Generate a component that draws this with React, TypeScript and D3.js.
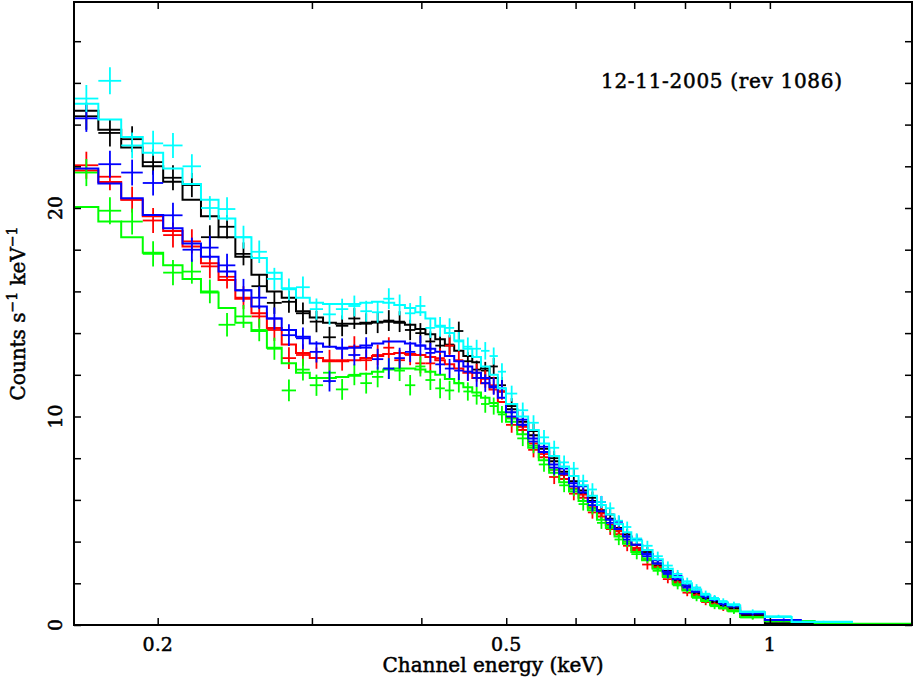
import React, { useRef, useEffect } from "react";
import { select, scaleLog, scaleLinear, line, curveStepAfter, axisBottom, axisTop, axisLeft, axisRight, range } from "d3";

// channel bin edges (keV), shared by all five spectra up to ~0.92 keV
const edges = [
    0.1605, 0.1711, 0.1817, 0.1923, 0.2029, 0.2135, 0.2241, 0.2347, 0.2453, 0.2559,
    0.2665, 0.2771, 0.2877, 0.2983, 0.3089, 0.3195, 0.3301, 0.3407, 0.3513, 0.3619,
    0.3725, 0.3831, 0.3937, 0.4043, 0.4149, 0.4255, 0.4361, 0.4467, 0.4573, 0.4679,
    0.4785, 0.4891, 0.4997, 0.5147, 0.5297, 0.5447, 0.5597, 0.5747, 0.5897, 0.6047,
    0.6197, 0.6347, 0.6497, 0.6647, 0.6797, 0.6947, 0.7147, 0.7347, 0.7547, 0.7747,
    0.7947, 0.8147, 0.8347, 0.8547, 0.8747, 0.8947, 0.9247
];

// 1-sigma errors per bin
const errs = [
    0.65, 0.65, 0.62, 0.6, 0.6, 0.58, 0.57, 0.56, 0.55, 0.54,
    0.53, 0.52, 0.52, 0.51, 0.5, 0.5, 0.5, 0.5, 0.5, 0.5,
    0.5, 0.49, 0.48, 0.48, 0.47, 0.46, 0.45, 0.44, 0.43, 0.42,
    0.41, 0.4, 0.38, 0.37, 0.36, 0.35, 0.34, 0.33, 0.32, 0.31,
    0.3, 0.29, 0.28, 0.27, 0.26, 0.25, 0.24, 0.22, 0.2, 0.19,
    0.17, 0.16, 0.15, 0.14, 0.13, 0.12
];
const tailErrs = [0.1, 0.07, 0.04];

const blackModel = [
    24.67, 23.75, 22.9, 22.0, 21.26, 20.4, 19.6, 18.6, 17.66, 16.8,
    16.0, 15.7, 15.05, 14.75, 14.5, 14.45, 14.45, 14.5, 14.55, 14.55,
    14.5, 14.4, 14.2, 13.95, 13.7, 13.4, 13.15, 12.9, 12.6, 12.3,
    11.85, 11.2, 10.35, 9.75, 9.1, 8.45, 7.85, 7.35, 6.9, 6.45,
    5.95, 5.5, 5.1, 4.65, 4.25, 3.85, 3.4, 2.95, 2.55, 2.15,
    1.85, 1.55, 1.3, 1.1, 0.95, 0.8
];
const blackData = [
    24.4, 23.6, 23.3, 22.2, 21.45, 21.1, 18.6, 19.1, 17.8, 16.25,
    15.45, 15.5, 14.95, 14.55, 13.8, 14.35, 14.7, 14.45, 14.5, 14.6,
    14.55, 14.15, 14.0, 13.6, 13.4, 13.45, 14.1, 12.65, 12.25, 12.2,
    12.4, 11.5, 10.5, 9.6, 9.3, 8.3, 8.0, 7.2, 7.15, 6.3,
    6.1, 5.4, 5.3, 4.5, 4.35, 3.7, 3.5, 2.85, 2.6, 2.05,
    1.9, 1.5, 1.35, 1.05, 0.95, 0.8
];
const blackTailEdges = [0.987, 1.125];
const blackTailModel = [0.5, 0.08];
const blackTailData = [0.45, 0.07];

const redModel = [
    21.8, 21.25, 20.4, 19.6, 18.9, 18.15, 17.35, 16.55, 15.65, 14.95,
    14.25, 13.45, 13.05, 12.8, 12.65, 12.65, 12.7, 12.8, 12.9, 13.0,
    13.05, 13.0, 12.95, 12.85, 12.7, 12.5, 12.3, 12.1, 11.85, 11.6,
    11.3, 10.7, 9.95, 9.35, 8.7, 8.05, 7.45, 7.0, 6.55, 6.1,
    5.65, 5.2, 4.8, 4.35, 4.0, 3.6, 3.15, 2.75, 2.35, 2.0,
    1.7, 1.4, 1.2, 1.0, 0.85, 0.7
];
const redData = [
    22.05, 21.5, 20.4, 19.4, 18.7, 18.4, 17.2, 16.7, 15.7, 14.8,
    14.15, 12.8, 12.95, 12.8, 12.7, 12.7, 13.35, 12.7, 12.95, 13.3,
    12.7, 12.95, 12.55, 12.55, 12.8, 13.4, 12.7, 12.15, 12.1, 11.8,
    11.5, 11.2, 9.6, 9.5, 8.4, 8.2, 7.1, 7.2, 6.3, 6.25,
    5.4, 5.35, 4.6, 4.5, 3.8, 3.7, 2.9, 2.8, 2.2, 2.05,
    1.55, 1.45, 1.1, 1.0, 0.8, 0.7
];
const redTailEdges = [0.987, 1.059];
const redTailModel = [0.4, 0.2];
const redTailData = [0.38, 0.2];

const greenModel = [
    20.05, 19.35, 18.6, 17.85, 17.25, 16.6, 15.95, 15.2, 14.5, 14.1,
    13.3, 12.55, 12.1, 11.85, 11.85, 11.9, 11.95, 12.05, 12.15, 12.25,
    12.3, 12.3, 12.25, 12.15, 12.0, 11.8, 11.6, 11.4, 11.15, 10.9,
    10.65, 10.2, 9.75, 9.15, 8.5, 7.9, 7.3, 6.85, 6.4, 5.95,
    5.5, 5.05, 4.65, 4.25, 3.9, 3.5, 3.1, 2.7, 2.3, 1.95,
    1.65, 1.35, 1.15, 0.95, 0.8, 0.7
];
const greenData = [
    21.7, 19.87, 19.35, 17.8, 16.9, 16.95, 16.0, 14.4, 14.8, 14.15,
    13.25, 11.25, 12.25, 11.5, 12.1, 11.3, 12.0, 11.6, 11.9, 12.3,
    12.2, 11.5, 12.4, 11.75, 11.35, 11.25, 11.6, 11.2, 11.0, 10.6,
    10.5, 10.1, 9.9, 8.95, 8.6, 7.7, 7.45, 6.7, 6.5, 5.8,
    5.6, 4.9, 4.75, 4.1, 4.0, 3.4, 3.2, 2.6, 2.4, 1.9,
    1.7, 1.3, 1.2, 0.9, 0.85, 0.65
];
const greenTailEdges = [0.987, 1.125, 1.453];
const greenTailModel = [0.38, 0.19, 0.06];
const greenTailData = [0.36, 0.18, 0.05];

const blueModel = [
    21.9, 21.18, 20.47, 19.66, 19.03, 18.3, 17.66, 16.95, 16.05, 15.27,
    14.7, 14.15, 13.83, 13.5, 13.35, 13.3, 13.3, 13.4, 13.5, 13.6,
    13.6, 13.5, 13.4, 13.25, 13.1, 12.9, 12.65, 12.4, 12.1, 11.85,
    11.4, 10.9, 10.2, 9.6, 8.95, 8.3, 7.7, 7.25, 6.8, 6.35,
    5.9, 5.45, 5.05, 4.6, 4.25, 3.85, 3.4, 2.95, 2.55, 2.2,
    1.9, 1.6, 1.4, 1.2, 1.05, 0.9
];
const blueData = [
    24.3, 22.1, 21.7, 21.2, 19.65, 18.0, 18.1, 17.25, 16.05, 15.7,
    14.7, 13.9, 13.75, 13.1, 11.7, 13.25, 12.95, 13.3, 12.75, 12.3,
    12.8, 13.1, 13.4, 13.05, 12.5, 12.3, 12.2, 12.15, 11.85, 11.6,
    11.45, 11.35, 10.0, 9.85, 8.8, 8.55, 7.55, 7.5, 6.65, 6.65,
    5.75, 5.9, 4.9, 4.95, 4.1, 4.1, 3.3, 3.1, 2.45, 2.35,
    1.8, 1.7, 1.35, 1.25, 1.0, 0.9
];
const blueTailEdges = [0.987, 1.087];
const blueTailModel = [0.57, 0.24];
const blueTailData = [0.55, 0.25];

const cyanModel = [
    25.0, 24.25, 23.4, 22.65, 21.9, 21.15, 20.4, 19.5, 18.6, 17.6,
    16.9, 16.15, 15.7, 15.45, 15.4, 15.4, 15.4, 15.45, 15.5, 15.45,
    15.35, 15.2, 15.0, 14.7, 14.35, 14.0, 13.65, 13.25, 12.85, 12.4,
    12.0, 11.35, 10.6, 10.0, 9.35, 8.7, 8.1, 7.6, 7.15, 6.7,
    6.2, 5.75, 5.3, 4.85, 4.45, 4.05, 3.6, 3.15, 2.7, 2.3,
    2.0, 1.7, 1.45, 1.25, 1.1, 0.95
];
const cyanData = [
    25.25, 26.1, 23.0, 23.1, 23.0, 22.0, 20.0, 19.95, 18.6, 17.9,
    16.6, 16.1, 16.2, 15.15, 14.9, 15.15, 15.3, 15.05, 15.0, 15.65,
    15.35, 14.95, 15.3, 14.25, 14.3, 14.25, 13.6, 13.35, 13.25, 13.15,
    12.9, 12.15, 11.1, 10.3, 9.7, 9.0, 8.5, 7.8, 7.5, 6.9,
    6.5, 5.9, 5.6, 5.0, 4.7, 4.15, 3.8, 3.3, 2.85, 2.45,
    2.1, 1.8, 1.5, 1.3, 1.15, 1.0
];
const cyanTailEdges = [0.987, 1.059, 1.244];
const cyanTailModel = [0.62, 0.38, 0.14];
const cyanTailData = [0.65, 0.42, 0.16];

// axis ticks and labels
const xTicks = [0.2, 0.3, 0.4, 0.5, 0.6, 0.7, 0.8, 0.9, 1];
const xLabels = [0.2, 0.5, 1];
const yLabels = [0, 10, 20];

const makeSeries = (color, model, data, tailEdges, tailModel, tailData) => ({
    color: color,
    edges: edges.concat(tailEdges),
    model: model.concat(tailModel),
    data: data.concat(tailData),
    errs: errs.concat(tailErrs.slice(0, tailEdges.length))
});

const series = [
    makeSeries("#000000", blackModel, blackData, blackTailEdges, blackTailModel, blackTailData),
    makeSeries("#ff0000", redModel, redData, redTailEdges, redTailModel, redTailData),
    makeSeries("#00ff00", greenModel, greenData, greenTailEdges, greenTailModel, greenTailData),
    makeSeries("#0000ff", blueModel, blueData, blueTailEdges, blueTailModel, blueTailData),
    makeSeries("#00ffff", cyanModel, cyanData, cyanTailEdges, cyanTailModel, cyanTailData)
];

const width = 917;
const height = 681;
const margin = { top: 2, right: 5, bottom: 56, left: 74 };
const font = "'DejaVu Serif', serif";

const App = () => {
    const svgRef = useRef(null);

    useEffect(() => {
        const svg = select(svgRef.current);
        svg.selectAll("*").remove();

        const x = scaleLog().domain([0.1605, 1.453]).range([margin.left, width - margin.right]);
        const y = scaleLinear().domain([0, 29.88]).range([height - margin.bottom, margin.top]);
        const x0 = margin.left, x1 = width - margin.right;
        const y0 = height - margin.bottom, y1 = margin.top;

        const stepLine = line()
            .x(function (d) { return x(d[0]); })
            .y(function (d) { return y(d[1]); })
            .curve(curveStepAfter);

        series.forEach(function (s) {
            const g = svg.append("g").attr("stroke", s.color).attr("fill", "none");
            // data crosses: bin width horizontally, error vertically
            s.data.forEach(function (v, i) {
                const lo = s.edges[i], hi = s.edges[i + 1];
                const c = (lo + hi) / 2;
                g.append("line").attr("x1", x(lo)).attr("x2", x(hi)).attr("y1", y(v)).attr("y2", y(v))
                    .attr("stroke-width", 1.8);
                g.append("line").attr("x1", x(c)).attr("x2", x(c)).attr("y1", y(v - s.errs[i])).attr("y2", y(v + s.errs[i]))
                    .attr("stroke-width", 1.8);
            });
            // folded model as a histogram
            const pts = s.model.map(function (m, i) { return [s.edges[i], m]; });
            pts.push([s.edges[s.edges.length - 1], s.model[s.model.length - 1]]);
            g.append("path").attr("d", stepLine(pts)).attr("stroke-width", 2);
        });

        // frame
        svg.append("rect").attr("x", x0).attr("y", y1).attr("width", x1 - x0).attr("height", y0 - y1)
            .attr("fill", "none").attr("stroke", "#000").attr("stroke-width", 2);

        // inward ticks on all four sides
        const yMinor = range(0, 30, 2);
        const tickAxes = [
            [axisBottom(x).tickValues(xTicks), "translate(0," + y0 + ")"],
            [axisTop(x).tickValues(xTicks), "translate(0," + y1 + ")"],
            [axisLeft(y).tickValues(yMinor), "translate(" + x0 + ",0)"],
            [axisRight(y).tickValues(yMinor), "translate(" + x1 + ",0)"]
        ];
        tickAxes.forEach(function (a) {
            const ax = svg.append("g").attr("transform", a[1])
                .call(a[0].tickSize(-7).tickFormat(function () { return ""; }));
            ax.select(".domain").remove();
            ax.selectAll("line").attr("stroke", "#000").attr("stroke-width", 1.5);
        });

        // text gets a thin outline so it looks as heavy as the plotter font
        const heavy = function (t) { return t.attr("stroke", "#000").attr("stroke-width", 0.5); };

        // tick labels
        svg.selectAll(".xlab").data(xLabels).enter().append("text")
            .attr("x", function (d) { return x(d); }).attr("y", 651)
            .attr("text-anchor", "middle").attr("font-family", font).attr("font-size", 19)
            .call(heavy)
            .text(function (d) { return String(d); });
        svg.selectAll(".ylab").data(yLabels).enter().append("text")
            .attr("transform", function (d) { return "translate(62," + y(d) + ") rotate(-90)"; })
            .attr("text-anchor", "middle").attr("font-family", font).attr("font-size", 19)
            .call(heavy)
            .text(function (d) { return String(d); });

        // axis titles
        svg.append("text").attr("x", (x0 + x1) / 2).attr("y", 672)
            .attr("text-anchor", "middle").attr("font-family", font).attr("font-size", 20)
            .call(heavy)
            .text("Channel energy (keV)");
        const yt = svg.append("text").attr("transform", "translate(25," + ((y0 + y1) / 2) + ") rotate(-90)")
            .attr("text-anchor", "middle").attr("font-family", font).attr("font-size", 20)
            .call(heavy);
        yt.append("tspan").text("Counts s");
        yt.append("tspan").attr("dy", -8).attr("font-size", 14).text("\u22121");
        yt.append("tspan").attr("dy", 8).text(" keV");
        yt.append("tspan").attr("dy", -8).attr("font-size", 14).text("\u22121");

        // observation label
        svg.append("text").attr("x", 601).attr("y", 88)
            .attr("textLength", 241).attr("lengthAdjust", "spacing")
            .attr("font-family", font).attr("font-size", 20)
            .call(heavy)
            .text("12-11-2005 (rev 1086)");
    }, []);

    return (
        <svg ref={svgRef} width={width} height={height} style={{ position: "absolute", left: 0, top: 0, background: "#fff" }} />
    );
};

export default App;
